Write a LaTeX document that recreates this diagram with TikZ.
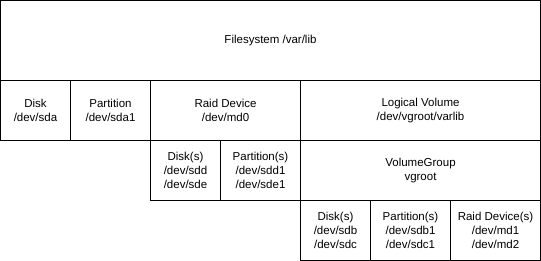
\documentclass[tikz,border=0pt]{standalone}
\usepackage{fontspec}
\setmainfont{Liberation Sans}
\usepackage{tikz}
\usetikzlibrary{positioning}
\tikzset{
  cell/.style ={draw=black, fill=white, line width=1pt, outer sep=0pt, inner sep=0pt,
                minimum width=#1, minimum height=60pt, align=center,
                font=\fontsize{11.5}{13.8}\selectfont},
  top/.style  ={cell=540pt, minimum height=80pt},
}
\begin{document}
\begin{tikzpicture}[x=1pt, y=1pt, node distance=0pt]
\useasboundingbox (-0.5,0.5) rectangle (540.5,-260.5);
% filesystem
\node[top, anchor=north west] (fs) at (0,0) {Filesystem /var/lib};
% first layer
\node[cell=70pt, anchor=north west] (disk) at (fs.south west) {Disk\\/dev/sda};
\node[cell=80pt, right=of disk] (part) {Partition\\/dev/sda1};
\node[cell=150pt, right=of part] (raid) {Raid Device\\/dev/md0};
\node[cell=240pt, right=of raid] (lv) {Logical Volume\\/dev/vgroot/varlib};
% under the raid device
\node[cell=70pt, anchor=north west] (rdisk) at (raid.south west) {Disk(s)\\/dev/sdd\\/dev/sde};
\node[cell=80pt, right=of rdisk] (rpart) {Partition(s)\\/dev/sdd1\\/dev/sde1};
% under the logical volume
\node[cell=240pt, anchor=north west] (vg) at (lv.south west) {VolumeGroup\\vgroot};
\node[cell=70pt, anchor=north west] (vdisk) at (vg.south west) {Disk(s)\\/dev/sdb\\/dev/sdc};
\node[cell=80pt, right=of vdisk] (vpart) {Partition(s)\\/dev/sdb1\\/dev/sdc1};
\node[cell=90pt, right=of vpart] (vraid) {Raid Device(s)\\/dev/md1\\/dev/md2};
\end{tikzpicture}
\end{document}
